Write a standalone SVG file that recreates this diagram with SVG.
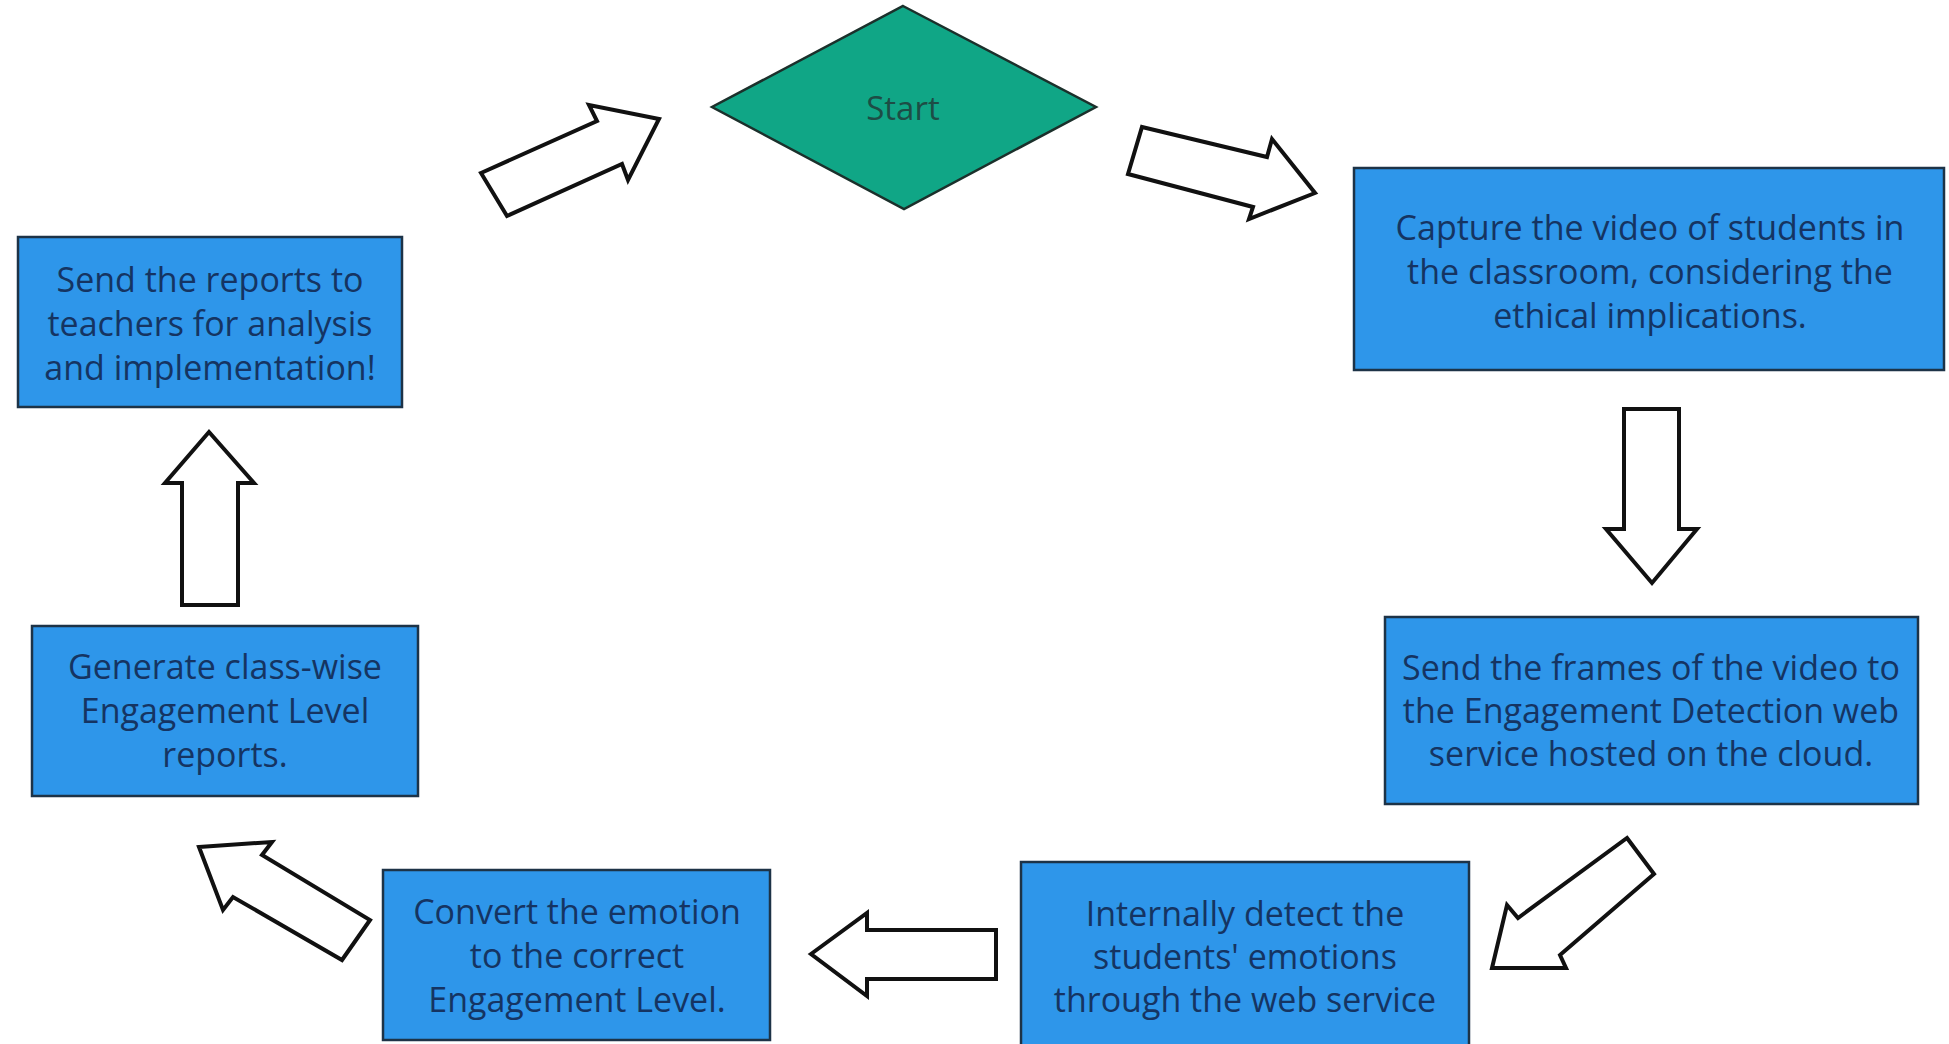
<svg xmlns="http://www.w3.org/2000/svg" width="1949" height="1044" viewBox="0 0 1949 1044">
<style>
.box{fill:#2e96ea;stroke:#1d3347;stroke-width:2.5}
.dia{fill:#10a686;stroke:#1b302b;stroke-width:2.5}
.t{font-family:"Open Sans","Noto Sans",sans-serif;font-size:34px;fill:#153462;text-anchor:middle}
.ts{font-family:"Open Sans","Noto Sans",sans-serif;font-size:33px;fill:#1d4d45;text-anchor:middle}
.arr{fill:#ffffff;stroke:#111111;stroke-width:4;stroke-linejoin:miter}
</style>
<rect width="1949" height="1044" fill="#ffffff"/>
<g id="connectors">
<polygon class="arr" points="481,173 597,121 589,105 659,119 628,180 622,164 507,216"/>
<polygon class="arr" points="1142,127 1267,157 1272,139 1315,193 1249,219 1253,207 1128,174"/>
<polygon class="arr" points="1624,409 1679,409 1679,529 1697,529 1652,583 1606,529 1624,529"/>
<polygon class="arr" points="1627,838 1654,874 1560,955 1566,968 1492,968 1507,905 1518,918"/>
<polygon class="arr" points="811,954 867,913 867,930 996,930 996,979 867,979 867,996"/>
<polygon class="arr" points="199,847 272,842 262,855 370,920 342,960 233,897 223,910"/>
<polygon class="arr" points="182,605 182,483 165,483 209,432 254,483 238,483 238,605"/>
</g>
<g id="start">
<polygon class="dia" points="903,6 1096,107 904,209 712,107"/>
<text class="ts" x="903" y="120">Start</text>
</g>
<g id="capture">
<rect class="box" x="1354" y="168" width="590" height="202"/>
<text class="t" x="1650" y="240">Capture the video of students in</text>
<text class="t" x="1650" y="284">the classroom, considering the</text>
<text class="t" x="1650" y="328">ethical implications.</text>
</g>
<g id="send-frames">
<rect class="box" x="1385" y="617" width="533" height="187"/>
<text class="t" x="1651" y="680">Send the frames of the video to</text>
<text class="t" x="1651" y="723">the Engagement Detection web</text>
<text class="t" x="1651" y="766">service hosted on the cloud.</text>
</g>
<g id="detect">
<rect class="box" x="1021" y="862" width="448" height="200"/>
<text class="t" x="1245" y="926">Internally detect the</text>
<text class="t" x="1245" y="969">students' emotions</text>
<text class="t" x="1245" y="1012">through the web service</text>
</g>
<g id="convert">
<rect class="box" x="383" y="870" width="387" height="170"/>
<text class="t" x="577" y="924">Convert the emotion</text>
<text class="t" x="577" y="968">to the correct</text>
<text class="t" x="577" y="1012">Engagement Level.</text>
</g>
<g id="generate">
<rect class="box" x="32" y="626" width="386" height="170"/>
<text class="t" x="225" y="679">Generate class-wise</text>
<text class="t" x="225" y="723">Engagement Level</text>
<text class="t" x="225" y="767">reports.</text>
</g>
<g id="send-reports">
<rect class="box" x="18" y="237" width="384" height="170"/>
<text class="t" x="210" y="292">Send the reports to</text>
<text class="t" x="210" y="336">teachers for analysis</text>
<text class="t" x="210" y="380">and implementation!</text>
</g>
</svg>
